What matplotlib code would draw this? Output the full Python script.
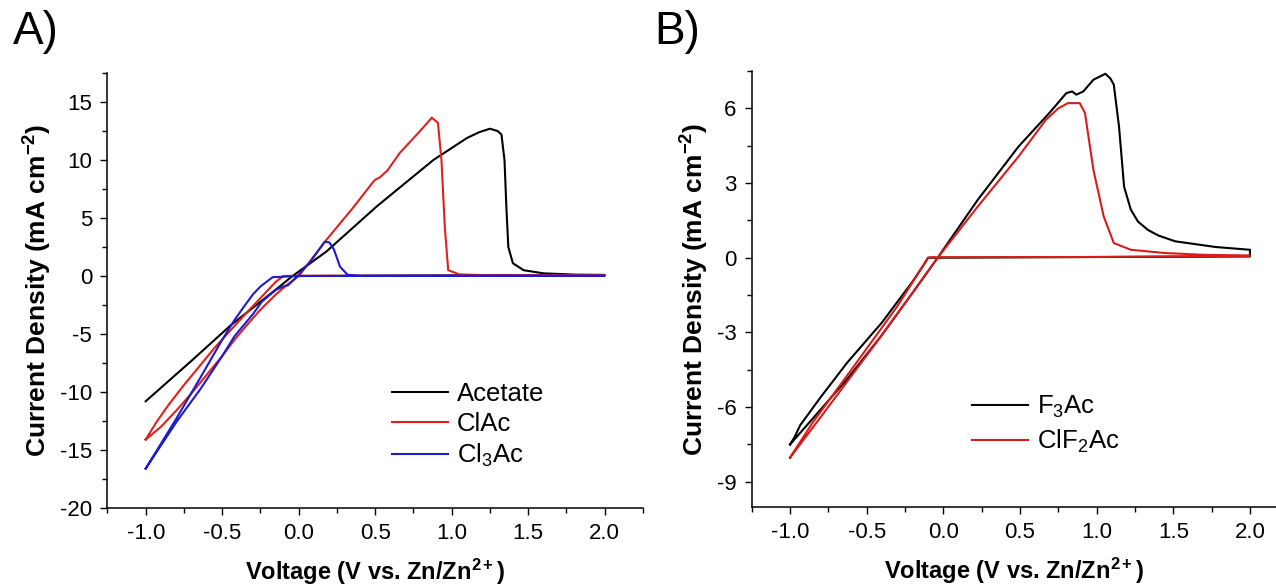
import numpy as np
import matplotlib
matplotlib.use("Agg")
import matplotlib.pyplot as plt
from matplotlib.ticker import MultipleLocator, FormatStrFormatter

plt.rcParams["font.family"] = ["Liberation Sans", "DejaVu Sans"]
plt.rcParams["mathtext.fontset"] = "custom"
plt.rcParams["mathtext.rm"] = "Liberation Sans"
plt.rcParams["mathtext.it"] = "Liberation Sans:italic"
plt.rcParams["mathtext.bf"] = "Liberation Sans:bold"
plt.rcParams["axes.unicode_minus"] = False

# ---- panel A: acetate / ClAc / Cl3Ac (CV loops, V vs Zn/Zn2+, mA cm-2) ----
ace_v = [-1.0, -0.7, -0.44, -0.2, -0.04, 0.18, 0.51, 0.88, 1.10, 1.18, 1.25,
         1.30, 1.325, 1.345, 1.358, 1.37, 1.40, 1.47, 1.60, 1.80, 2.0,
         1.0, 0.0]
ace_j = [-10.8, -7.3, -4.2, -1.7, 0.0, 2.1, 6.0, 10.0, 11.9, 12.4, 12.7,
         12.5, 12.2, 10.0, 5.7, 2.5, 1.1, 0.5, 0.23, 0.12, 0.09,
         0.05, 0.0]

clac_v = [-1.0, -0.9, -0.8, -0.7, -0.6, -0.5, -0.42, -0.33, -0.25, -0.15,
          -0.08, 0.0, 0.18, 0.35, 0.48, 0.50, 0.53, 0.58, 0.66, 0.80, 0.87,
          0.91, 0.933, 0.955, 0.977, 1.05, 1.20, 2.0,
          1.0, 0.0, -0.1, -0.15, -0.25, -0.35, -0.44, -0.55, -0.65, -0.75,
          -0.85, -0.93, -1.0]
clac_j = [-14.1, -13.0, -11.6, -10.1, -8.5, -6.9, -5.5, -4.1, -2.9, -1.6,
          -0.8, 0.0, 3.1, 5.8, 8.0, 8.3, 8.5, 9.1, 10.6, 12.6, 13.65,
          13.2, 10.0, 4.2, 0.5, 0.14, 0.08, 0.05,
          0.03, 0.02, 0.0, -0.5, -1.9, -3.3, -4.6, -6.2, -7.8, -9.4,
          -11.1, -12.6, -14.1]

cl3_v = [-1.0, -0.8, -0.64, -0.5, -0.42, -0.3, -0.24, -0.15, -0.1, -0.07,
         -0.03, 0.0, 0.08, 0.14, 0.17, 0.20, 0.23, 0.27, 0.32, 0.40, 2.0,
         1.0, 0.0, -0.17, -0.25, -0.30, -0.35, -0.42, -0.5, -0.64, -0.8,
         -1.0]
cl3_j = [-16.6, -12.6, -9.7, -6.9, -5.2, -3.3, -2.2, -1.2, -0.9, -0.8,
         -0.3, 0.1, 1.3, 2.4, 2.95, 2.9, 2.3, 0.8, 0.1, 0.02, 0.02,
         0.01, 0.0, -0.1, -0.9, -1.6, -2.5, -3.8, -5.5, -8.7, -12.3,
         -16.6]

# ---- panel B: F3Ac / ClF2Ac ----
f3_v = [-1.0, -0.9, -0.628, -0.409, -0.19, -0.037, 0.225, 0.491, 0.691,
        0.802, 0.84, 0.868, 0.913, 0.979, 1.057, 1.09, 1.112, 1.146, 1.179,
        1.223, 1.27, 1.334, 1.40, 1.512, 1.778, 2.0,
        2.0, 1.0, -0.1, -0.125, -0.2, -0.4, -0.628, -0.8, -0.934, -0.97,
        -1.0]
f3_j = [-7.5, -6.8, -4.88, -3.17, -1.32, 0.0, 2.33, 4.47, 5.81,
        6.61, 6.68, 6.55, 6.68, 7.15, 7.39, 7.2, 6.95, 5.27, 2.86,
        1.93, 1.45, 1.12, 0.9, 0.66, 0.43, 0.32,
        0.05, 0.03, 0.0, -0.26, -0.95, -2.6, -4.22, -5.6, -6.73, -7.2,
        -7.5]

clf2_v = [-1.0, -0.8, -0.6, -0.4, -0.2, -0.037, 0.225, 0.491, 0.669, 0.75,
          0.813, 0.89, 0.924, 0.979, 1.046, 1.112, 1.223, 1.445, 1.69, 2.0,
          1.0, -0.08, -0.1, -0.13, -0.3, -0.6, -0.85, -1.0]
clf2_j = [-8.03, -6.4, -4.75, -3.1, -1.4, 0.0, 2.06, 4.07, 5.54, 6.0,
          6.21, 6.21, 5.81, 3.53, 1.66, 0.59, 0.32, 0.19, 0.12, 0.08,
          0.03, 0.02, 0.0, -0.3, -1.95, -4.5, -6.6, -8.03]

XLABEL = r"Voltage (V vs. Zn/Zn$^{\mathbf{2+}}$)"
YLABEL = r"Current Density (mA cm$^{\mathbf{-2}}$)"

RED_A = "#e0201e"
BLUE_A = "#1c1ccc"
RED_B = "#d81c1c"


def style_axis(ax):
    for side in ("top", "right"):
        ax.spines[side].set_visible(False)
    for side in ("left", "bottom"):
        ax.spines[side].set_linewidth(1.1)
    ax.tick_params(which="both", direction="out", width=1.0, labelsize=16)
    ax.tick_params(which="major", length=5, pad=6)
    ax.tick_params(which="minor", length=3.5)
    ax.xaxis.set_major_locator(MultipleLocator(0.5))
    ax.xaxis.set_minor_locator(MultipleLocator(0.25))
    ax.xaxis.set_major_formatter(FormatStrFormatter("%.1f"))
    ax.set_xlabel(XLABEL, fontsize=17, fontweight="bold", labelpad=9)
    ax.set_ylabel(YLABEL, fontsize=19, fontweight="bold", labelpad=4)


fig = plt.figure(figsize=(12.76, 5.87), dpi=100)
axA = fig.add_axes([0.0842, 0.1346, 0.4197, 0.741])
axB = fig.add_axes([0.5891, 0.1368, 0.4109, 0.7422])

lw = 1.5
axA.plot(ace_v, ace_j, color="black", lw=lw, label="Acetate")
axA.plot(clac_v, clac_j, color=RED_A, lw=lw, label="ClAc")
axA.plot(cl3_v, cl3_j, color=BLUE_A, lw=lw, label="Cl$_3$Ac")
axA.set_xlim(-1.25, 2.25)
axA.set_ylim(-20, 17.5)
axA.yaxis.set_major_locator(MultipleLocator(5))
axA.yaxis.set_minor_locator(MultipleLocator(2.5))
style_axis(axA)
axA.legend(loc="upper left", bbox_to_anchor=(0.531, 0.289), frameon=False,
           fontsize=18.5, handlelength=2.19, handletextpad=0.35,
           labelspacing=0.22, borderpad=0, borderaxespad=0)

axB.plot(f3_v, f3_j, color="black", lw=lw, label="F$_3$Ac")
axB.plot(clf2_v, clf2_j, color=RED_B, lw=lw, label="ClF$_2$Ac")
axB.set_xlim(-1.25, 2.17)
axB.set_ylim(-10, 7.5)
axB.yaxis.set_major_locator(MultipleLocator(3))
axB.yaxis.set_minor_locator(MultipleLocator(1.5))
style_axis(axB)
axB.legend(loc="upper left", bbox_to_anchor=(0.4196, 0.259), frameon=False,
           fontsize=18.5, handlelength=2.19, handletextpad=0.35,
           labelspacing=0.31, borderpad=0, borderaxespad=0)

fig.text(0.010, 0.945, "A)", fontsize=33, va="center", ha="left")
fig.text(0.513, 0.945, "B)", fontsize=33, va="center", ha="left")

fig.savefig("out.png", dpi=100)
